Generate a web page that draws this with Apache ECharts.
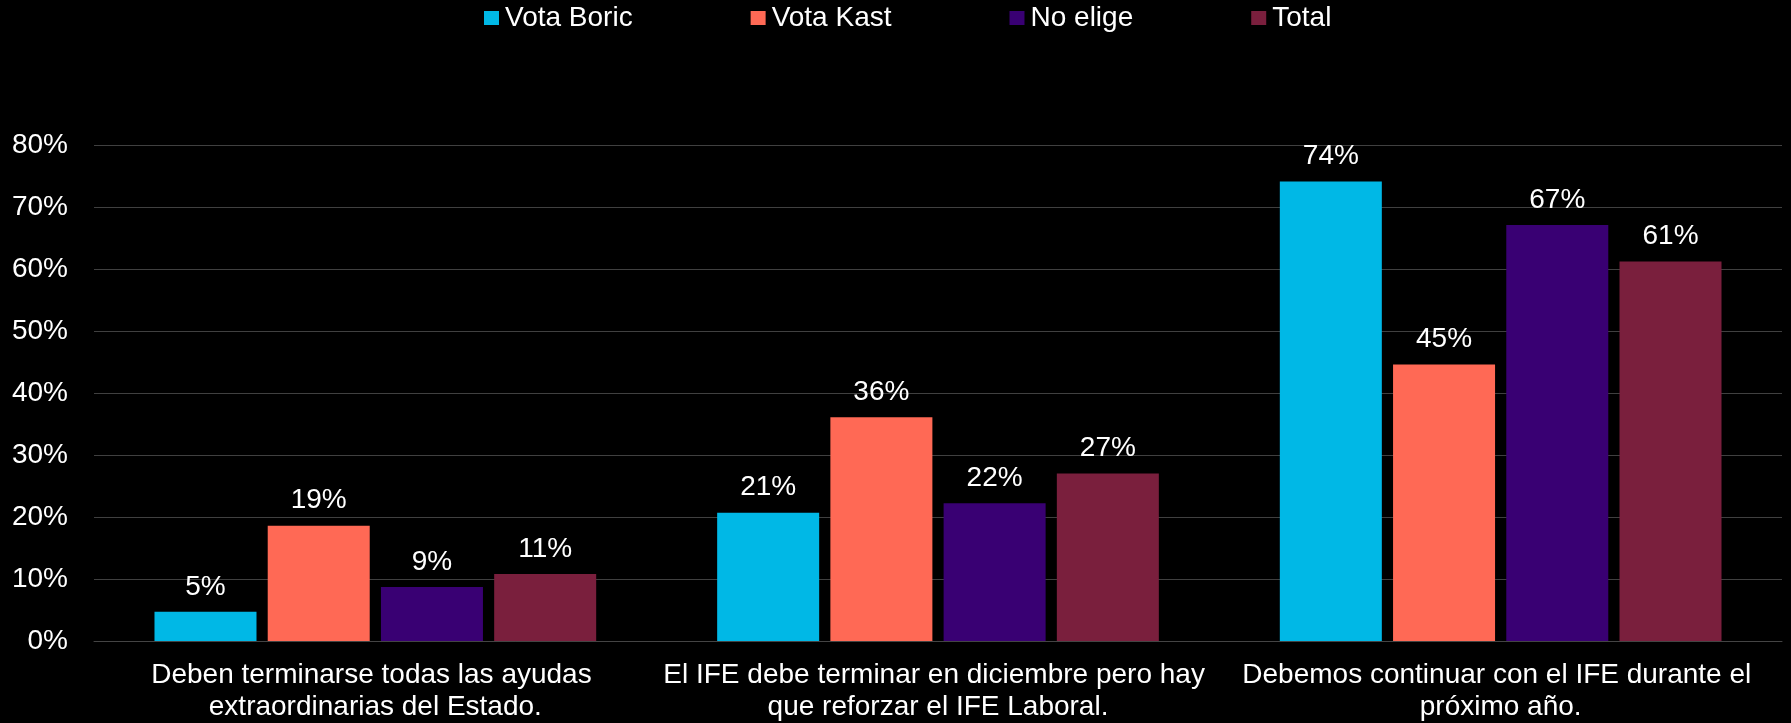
<!DOCTYPE html>
<html>
<head>
<meta charset="utf-8">
<script src="https://cdn.jsdelivr.net/npm/echarts@6/dist/echarts.min.js"></script>
<style>
html,body{margin:0;padding:0;background:#000;}
#chart{width:1791px;height:723px;}
</style>
</head>
<body>
<div id="chart"></div>
<script>
const categories = [
  'Deben terminarse todas las ayudas extraordinarias del Estado.',
  'El IFE debe terminar en diciembre pero hay que reforzar el IFE Laboral.',
  'Debemos continuar con el IFE durante el próximo año.'
];
const seriesNames = ['Vota Boric', 'Vota Kast', 'No elige', 'Total'];
const votaBoric = [4.7, 20.7, 74.1];
const votaKast = [18.6, 36.1, 44.6];
const noElige = [8.7, 22.2, 67.1];
const total = [10.8, 27.0, 61.2];
const yTicks = [0, 10, 20, 30, 40, 50, 60, 70, 80];
const colors = ['#00B8E6', '#FF6955', '#390073', '#7A1F3D'];

const seriesData = [votaBoric, votaKast, noElige, total];
const font = 'Liberation Sans, Arial, sans-serif';
const chart = echarts.init(document.getElementById('chart'));
chart.setOption({
  backgroundColor: '#000',
  animation: false,
  textStyle: { fontFamily: font },
  legend: {
    top: 4,
    left: 484,
    padding: 0,
    itemWidth: 15,
    itemHeight: 14,
    itemGap: 118,
    icon: 'rect',
    textStyle: { color: '#fff', fontSize: 28, fontFamily: font, padding: [0, 0, 0, 1] },
    data: seriesNames
  },
  grid: { left: 94, right: 9, top: 145, bottom: 80, containLabel: false },
  xAxis: {
    type: 'category',
    data: categories,
    axisLine: { lineStyle: { color: '#444', width: 1 } },
    axisTick: { show: false },
    axisLabel: {
      color: '#fff', fontSize: 28, fontFamily: font, margin: 18,
      lineHeight: 32, width: 560, overflow: 'break', interval: 0
    }
  },
  yAxis: {
    type: 'value',
    min: yTicks[0],
    max: yTicks[yTicks.length - 1],
    interval: 10,
    axisLine: { show: false },
    axisTick: { show: false },
    splitLine: { lineStyle: { color: '#404040', width: 1 } },
    axisLabel: { color: '#fff', fontSize: 28, fontFamily: font, margin: 26, formatter: v => v + '%' }
  },
  series: seriesNames.map((name, i) => ({
    name: name,
    type: 'bar',
    data: seriesData[i],
    barGap: '11%',
    barCategoryGap: '21.5%',
    itemStyle: { color: colors[i] },
    label: {
      show: true, position: 'top', distance: 11,
      color: '#fff', fontSize: 28, fontFamily: font,
      formatter: p => Math.round(p.value) + '%'
    }
  }))
});
</script>
</body>
</html>
